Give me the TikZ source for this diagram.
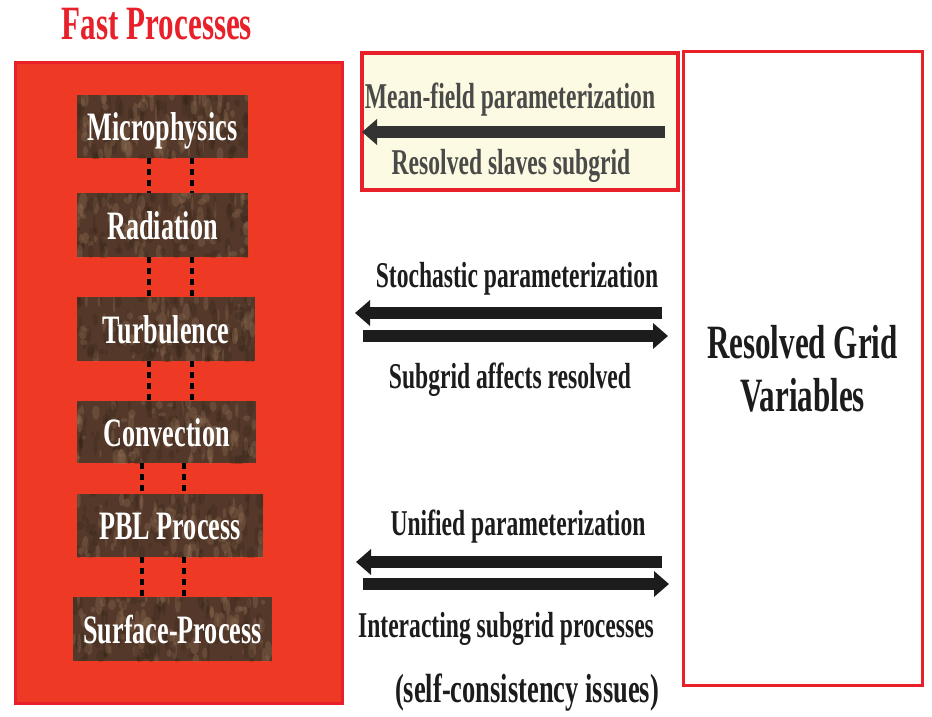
\documentclass[tikz,border=0pt]{standalone}
\usepackage{fontspec}
\newfontfamily\slimserif{Liberation Serif}[FakeStretch=0.65]
\usetikzlibrary{arrows.meta,calc}
\definecolor{fastred}{HTML}{EE3A24}
\definecolor{edgered}{HTML}{E8202A}
\definecolor{cream}{HTML}{FDFAE3}
\definecolor{marblebase}{HTML}{54392A}
\definecolor{marbledark}{HTML}{2E1F14}
\definecolor{marblelight}{HTML}{A07F60}
\definecolor{inkgray}{HTML}{4A4A48}
\definecolor{ink}{HTML}{1C1C1C}
\tikzset{
  marble/.style={fill=marblebase, path picture={
      \foreach \k in {1,...,160}{
        \pgfmathparse{rnd>0.5 ? "marblelight" : "marbledark"}
        \edef\spot{\pgfmathresult}
        \fill[\spot, opacity=.25]
          let \p1=(path picture bounding box.south west),
              \p2=(path picture bounding box.north east) in
          ({\x1+rnd*(\x2-\x1)},{\y1+rnd*(\y2-\y1)})
          ellipse [x radius={1pt+3.5pt*rnd}, y radius={2pt+8pt*rnd}];
      }}},
  procbox/.style={marble, text=white, inner sep=0pt, text height=28pt, text depth=0pt,
    font=\slimserif\bfseries\fontsize{40.3}{48}\selectfont},
  dotlink/.style={line width=4pt, dash pattern=on 6pt off 5pt},
  bigarrow/.style={draw=ink, line width=11.5pt, -{Triangle[length=15pt,width=25pt]}},
  midtext/.style={anchor=base, inner sep=0pt, text=ink,
    font=\slimserif\bfseries\fontsize{36.3}{42}\selectfont},
}
\begin{document}
\begin{tikzpicture}[x=1pt,y=-1pt]  % ------ fast processes vs resolved grid ------
    \pgfmathsetseed{7}
    \useasboundingbox (0,0) rectangle (932,717);

    \coordinate (colA) at (149,0);
    \coordinate (colB) at (192,0);
    \coordinate (colC) at (142,0);
    \coordinate (colD) at (184,0);

    \node[anchor=base, inner sep=0pt, text=edgered, font=\slimserif\bfseries\fontsize{47.8}{54}\selectfont]
      (title) at (157,40) {Fast Processes};
    \node[draw=edgered, fill=fastred, line width=3pt, minimum width=327pt, minimum height=640pt]
      (fast) at (178.5,383) {};
    \node[draw=edgered, fill=cream, line width=3.5pt, minimum width=316pt, minimum height=137pt]
      (meanbox) at (520,121.5) {};
    \node[draw=edgered, line width=3pt, minimum width=239pt, minimum height=633pt, align=center,
      text=ink, font=\slimserif\bfseries\fontsize{47.8}{53}\selectfont]
      (grid) at (802.5,368.5) {Resolved Grid\\Variables};

    % fast processes
    \node[procbox, minimum width=171pt, minimum height=63pt] (micro) at (162.5,126.5) {Microphysics};
    \node[procbox, minimum width=171pt, minimum height=64pt] (rad)   at (162.5,225)   {Radiation};
    \node[procbox, minimum width=178pt, minimum height=64pt] (turb)  at (166,329)     {Turbulence};
    \node[procbox, minimum width=179pt, minimum height=62pt] (conv)  at (166.5,432)   {Convection};
    \node[procbox, minimum width=186pt, minimum height=63pt] (pbl)   at (170,525.5)   {PBL Process};
    \node[procbox, minimum width=199pt, minimum height=64pt] (surf)  at (172.5,629)   {Surface-Process};

    \foreach \up/\dn/\ca/\cb in {micro/rad/colA/colB, rad/turb/colA/colB, turb/conv/colA/colB,
                                conv/pbl/colC/colD, pbl/surf/colC/colD}
      \draw[dotlink] (\up.south -| \ca) -- (\dn.north -| \ca)
                     (\up.south -| \cb) -- (\dn.north -| \cb);

    % mean-field
    \coordinate (mfL) at (362,132);  \coordinate (mfR) at (665,132);
    \node[midtext, text=inkgray] (mf1) at (510,108) {Mean-field parameterization};
    \node[midtext, text=inkgray] (mf2) at (511,174) {Resolved slaves subgrid};
    \draw[bigarrow, draw=ink!90] (mfR) -- (mfL);

    % stochastic
    \coordinate (stL1) at (355,313);  \coordinate (stR1) at (662,313);
    \coordinate (stL2) at (363,336);  \coordinate (stR2) at (668,336);
    \node[midtext] (st1) at (517,287) {Stochastic parameterization};
    \node[midtext] (st2) at (510,388) {Subgrid affects resolved};
    \draw[bigarrow] (stR1) -- (stL1);
    \draw[bigarrow] (stL2) -- (stR2);

    % unified
    \coordinate (unL1) at (356,562);  \coordinate (unR1) at (662,562);
    \coordinate (unL2) at (363,584);  \coordinate (unR2) at (669,584);
    \node[midtext] (un1) at (518,535) {Unified parameterization};
    \node[midtext] (un2) at (506,637) {Interacting subgrid processes};
    \node[midtext, font=\slimserif\bfseries\fontsize{40.7}{46}\selectfont]
      (un3) at (527,702) {(self-consistency issues)};
    \draw[bigarrow] (unR1) -- (unL1);
    \draw[bigarrow] (unL2) -- (unR2);
\end{tikzpicture}
\end{document}
